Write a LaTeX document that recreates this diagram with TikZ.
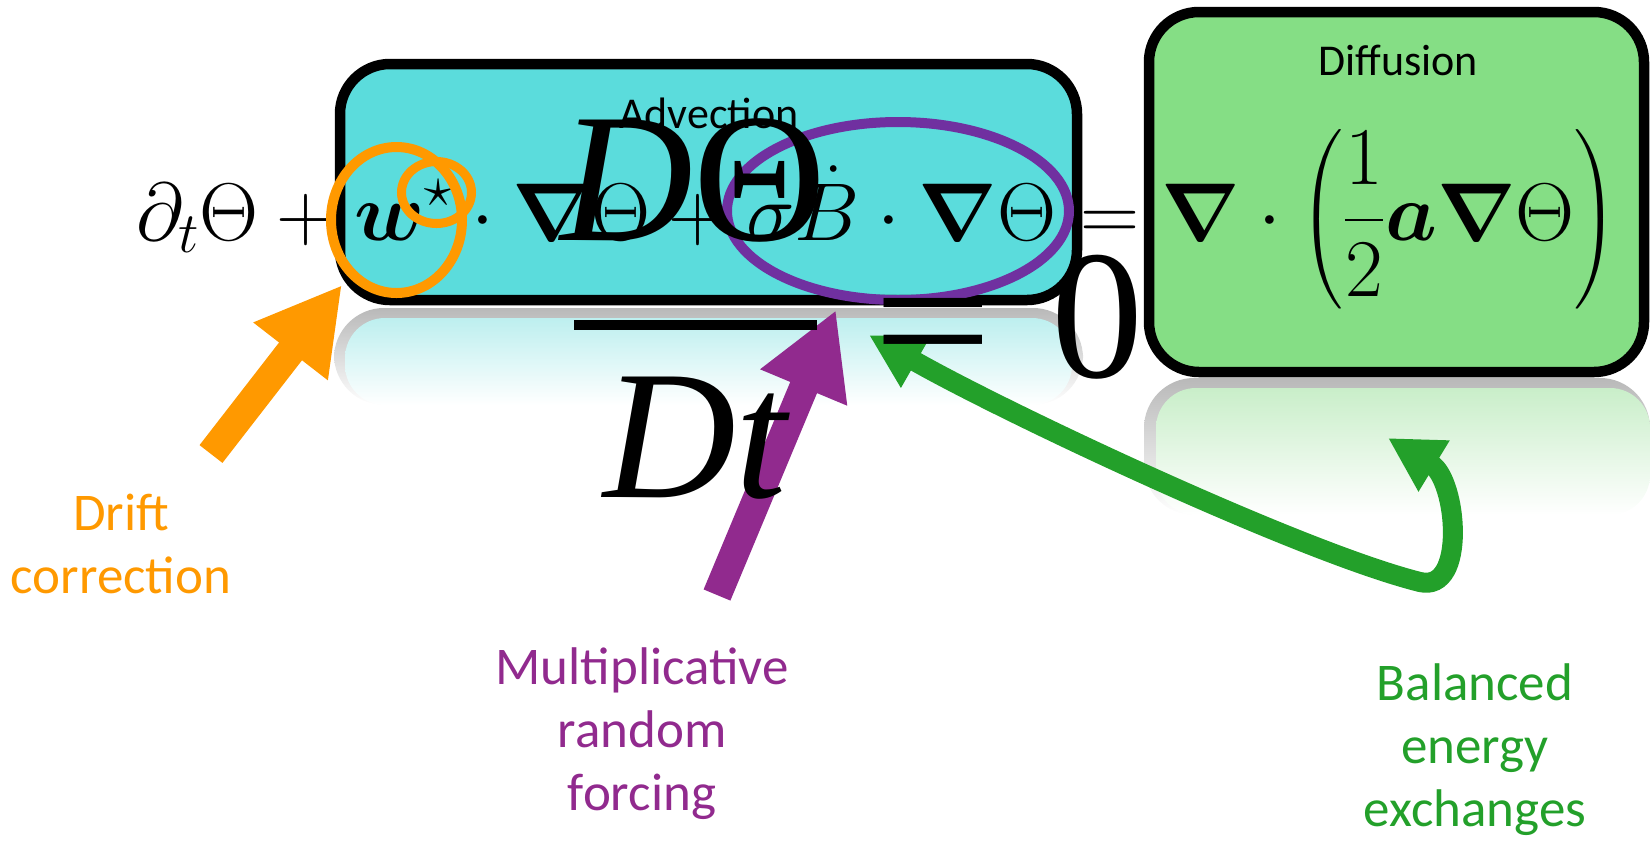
\RequirePackage{fix-cm}
\documentclass[tikz,border=0pt]{standalone}
\usepackage{amsmath,bm,graphicx}
\usepackage[no-math]{fontspec}
\newfontfamily\calibri{Carlito}
\newfontfamily\timesf{Liberation Serif}
\usetikzlibrary{arrows.meta}
\definecolor{advcyan}{HTML}{5BDCDC}
\definecolor{advrefl}{HTML}{BDEFEF}
\definecolor{difgreen}{HTML}{85DE85}
\definecolor{difrefl}{HTML}{C9EEC9}
\definecolor{drift}{HTML}{FF9900}
\definecolor{forcing}{HTML}{912A8E}
\definecolor{ringpurple}{HTML}{7030A0}
\definecolor{balance}{HTML}{23A02A}
\begin{document}
\begin{tikzpicture}[x=0.5pt,y=-0.5pt]
\tikzstyle{termbox}=[line width=5.25pt, rounded corners=25pt]
\tikzstyle{eq}=[inner sep=0pt, font=\fontsize{41}{49}\selectfont]
\tikzstyle{boxlabel}=[inner sep=0pt, font=\calibri\fontsize{22}{26}\selectfont]
\tikzstyle{note}=[inner sep=0pt, align=center, font=\calibri\fontsize{26.5}{31.5}\selectfont]
\tikzstyle{bigf}=[inner sep=0pt, font=\timesf\fontsize{92}{110}\selectfont]
\tikzstyle{ring}=[line width=5pt]
\tikzstyle{blockarrow}=[line width=14.5pt, -{Triangle[length=42pt,width=44pt]}]
\tikzstyle{curvearrow}=[line width=10pt, balance,
  {Triangle[length=27pt,width=28pt]}-{Triangle[length=27pt,width=28pt]}]
\useasboundingbox (0,0) rectangle (1650,842);
% reflections
\shade[rounded corners=25pt, top color=gray!55, bottom color=white] (334,308) rectangle (1083,405);
\shade[rounded corners=20pt, top color=advrefl, bottom color=white] (345,318) rectangle (1072,405);
\shade[rounded corners=25pt, top color=gray!55, bottom color=white] (1144,378) rectangle (1650,515);
\shade[rounded corners=20pt, top color=difrefl, bottom color=white] (1156,388) rectangle (1650,515);
% the two terms
\draw[termbox, fill=advcyan] (340,64) rectangle (1077,300);
\draw[termbox, fill=difgreen] (1149,12) rectangle (1644,372);
\node[boxlabel, anchor=base] (advlbl) at (709,128) {Advection};
\node[boxlabel, anchor=base] (diflbl) at (1398,75) {Diffusion};
\node[eq, anchor=base east] (eqlhs) at (1057,240)
  {$\displaystyle\partial_t\Theta+\bm{w}^{\star}\cdot\bm{\nabla}\Theta+\sigma\dot{B}\cdot\bm{\nabla}\Theta$};
\node[eq, anchor=base] (eqsign) at (1110,240) {$=$};
\node[eq, anchor=base west] (eqrhs) at (1161,240)
  {$\displaystyle\bm{\nabla}\cdot\left(\frac{1}{2}\bm{a}\bm{\nabla}\Theta\right)$};
% rings
\draw[ring, drift] (396.5,220) ellipse [x radius=32.75pt, y radius=36.5pt];
\draw[ring, drift, line width=4.5pt] (436.5,192.5) ellipse [x radius=17.5pt, y radius=15.5pt];
\draw[ring, ringpurple] (898,211) ellipse [x radius=85.5pt, y radius=44.5pt];
% arrows
\coordinate (drifttail) at (211,454);
\coordinate (drifttip) at (342,285);
\coordinate (forcetail) at (717,595);
\coordinate (forcetip) at (836,310);
\coordinate (baltipa) at (869,335);
\coordinate (balturn) at (1420,582);
\coordinate (baltipb) at (1388,438);
\draw[blockarrow, drift] (drifttail) -- (drifttip);
\draw[blockarrow, forcing] (forcetail) -- (forcetip);
\draw[curvearrow] (baltipa) .. controls (1000,410) and (1300,552) .. (balturn)
  .. controls (1467,593) and (1457,480) .. (baltipb);
% labels
\node[note, drift, anchor=base] (driftlbl) at (121,593) {Drift\\correction};
\node[note, forcing, anchor=base] (forcelbl) at (642,810) {Multiplicative\\random\\forcing};
\node[note, balance, anchor=base] (ballbl) at (1475,826) {Balanced\\energy\\exchanges};
% material derivative on top
\node[bigf, anchor=base] (numer) at (693,240) {\itshape D\upshape Θ};
\fill (574,320) rectangle (817,330);
\node[bigf, anchor=base] (denom) at (695,497) {\itshape Dt};
\node[bigf, anchor=base] (bigeq) at (933,382) {\scalebox{1.15}[1]{=}};
\node[bigf, anchor=base] (zero) at (1097,377) {0};
\end{tikzpicture}
\end{document}
